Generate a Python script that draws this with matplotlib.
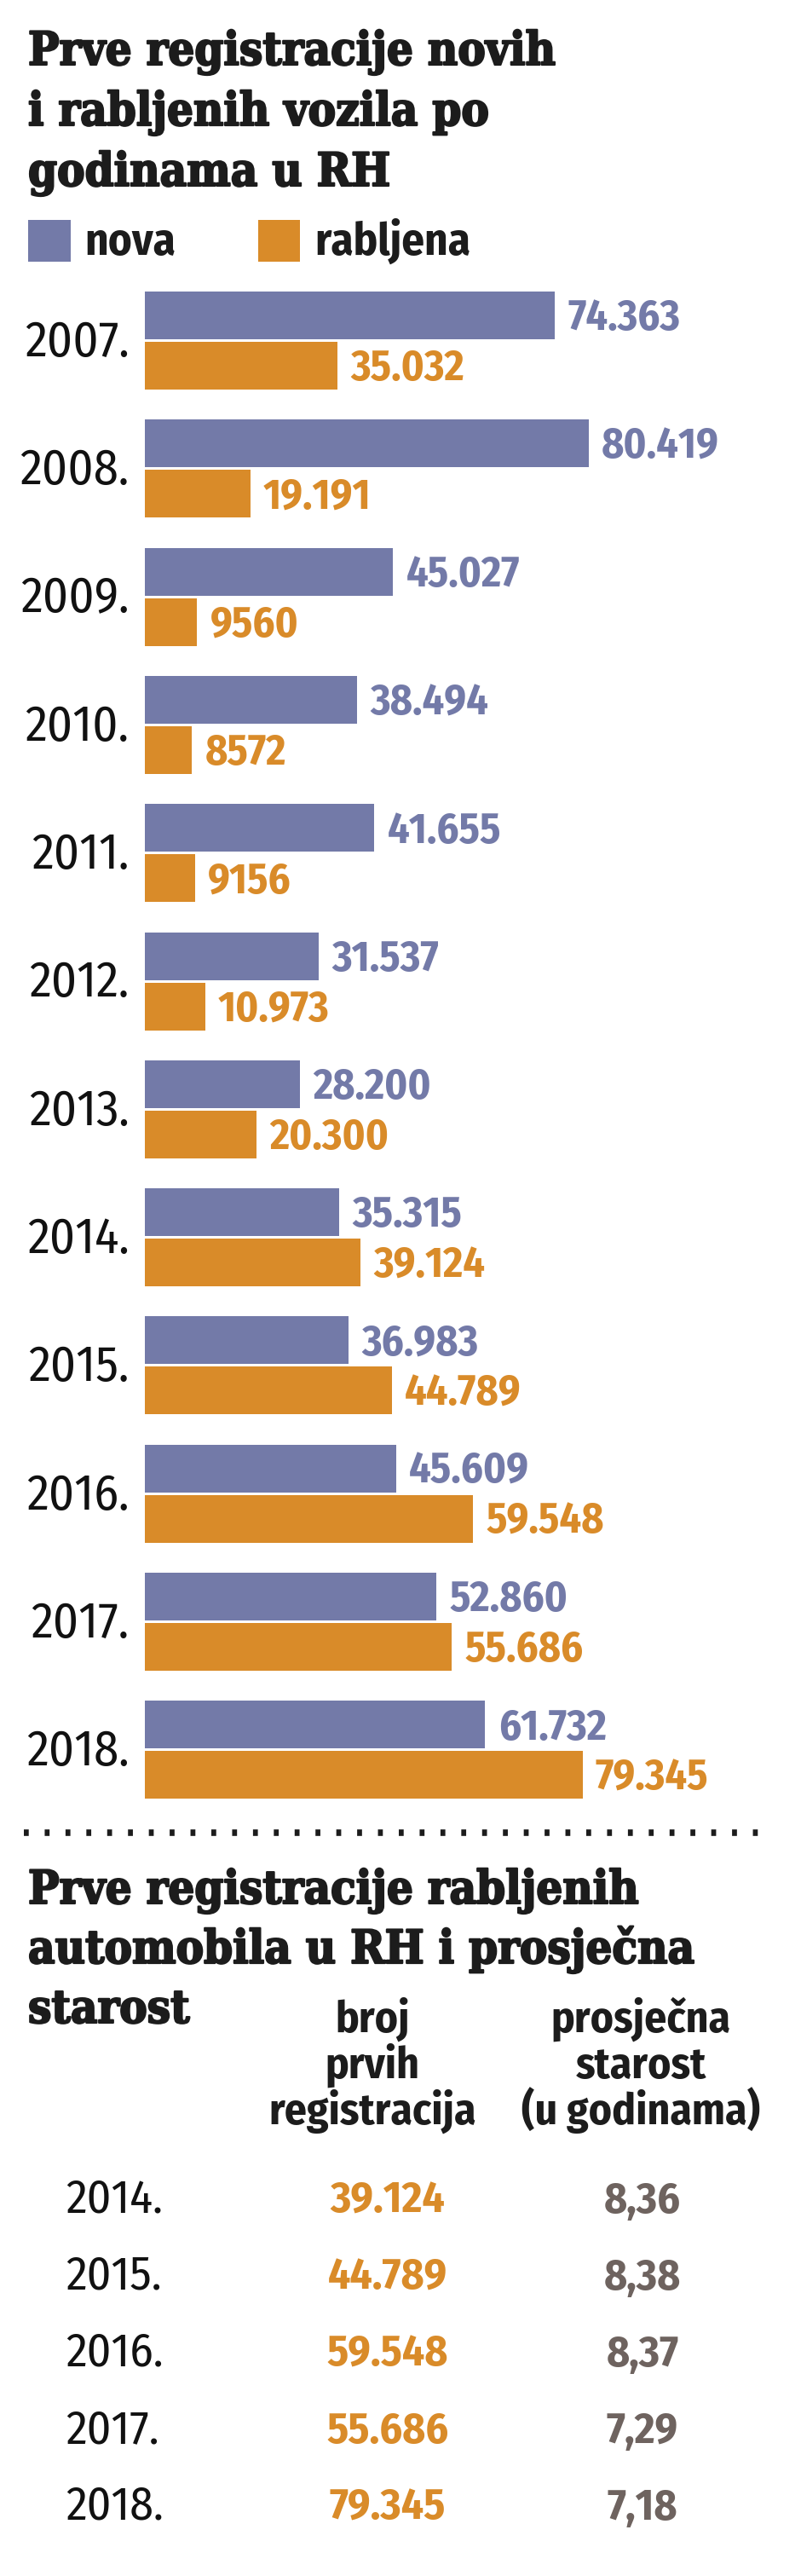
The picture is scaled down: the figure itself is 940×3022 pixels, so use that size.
import matplotlib
matplotlib.use("Agg")
import matplotlib.pyplot as plt
import matplotlib.patheffects as pe
from matplotlib.patches import Rectangle

# -----------------------------
# data
# -----------------------------
years = ["2007.", "2008.", "2009.", "2010.", "2011.", "2012.",
         "2013.", "2014.", "2015.", "2016.", "2017.", "2018."]
nova = [74363, 80419, 45027, 38494, 41655, 31537,
        28200, 35315, 36983, 45609, 52860, 61732]
rabljena = [35032, 19191, 9560, 8572, 9156, 10973,
            20300, 39124, 44789, 59548, 55686, 79345]
nova_labels = ["74.363", "80.419", "45.027", "38.494", "41.655", "31.537",
               "28.200", "35.315", "36.983", "45.609", "52.860", "61.732"]
rabljena_labels = ["35.032", "19.191", "9560", "8572", "9156", "10.973",
                   "20.300", "39.124", "44.789", "59.548", "55.686", "79.345"]

table_years = ["2014.", "2015.", "2016.", "2017.", "2018."]
table_regs = ["39.124", "44.789", "59.548", "55.686", "79.345"]
table_age = ["8,36", "8,38", "8,37", "7,29", "7,18"]

title1 = ["Prve registracije novih", "i rabljenih vozila po", "godinama u RH"]
title2 = ["Prve registracije rabljenih", "automobila u RH i prosječna", "starost"]
head1 = ["broj", "prvih", "registracija"]
head2 = ["prosječna", "starost", "(u godinama)"]

C_NOVA = "#737aa8"
C_RAB = "#d98b29"
C_AGE = "#6e635f"
C_TXT = "#1c1c1c"

W, H = 940, 3022
# heavy slab-ish title: condensed DejaVu Serif, thickened a bit with a stroke
TITLE_FONT = dict(family=["DejaVu Serif"], fontstretch="condensed", fontweight="bold",
                  path_effects=[pe.withStroke(linewidth=1.6, foreground=C_TXT)])
BOLD = dict(family=["Fira Sans Condensed", "DejaVu Sans"], fontweight="bold")
THIN = dict(family=["Fira Sans Condensed", "DejaVu Sans"], fontweight="normal")

fig = plt.figure(figsize=(W / 100, H / 100), dpi=100)
fig.patch.set_facecolor("white")

# canvas in pixel units for the free text
cv = fig.add_axes([0, 0, 1, 1])
cv.set_xlim(0, W)
cv.set_ylim(H, 0)
cv.axis("off")

# -----------------------------
# title + legend
# -----------------------------
for i, line in enumerate(title1):
    cv.text(33, 76 + 71 * i, line, fontsize=39, color=C_TXT, va="baseline", **TITLE_FONT)

cv.add_patch(Rectangle((33, 258), 50, 49, color=C_NOVA, lw=0))
cv.text(99, 299, "nova", fontsize=38, color=C_TXT, va="baseline", **BOLD)
cv.add_patch(Rectangle((303, 258), 49, 49, color=C_RAB, lw=0))
cv.text(369, 299, "rabljena", fontsize=38, color=C_TXT, va="baseline", **BOLD)

# -----------------------------
# bars
# -----------------------------
top, bottom, left = 330, 2110, 169.5
px_per_unit = 521 / 80419
ax = fig.add_axes([left / W, 1 - bottom / H, (W - left) / W, (bottom - top) / H])
ax.set_xlim(0, (W - left) / px_per_unit)
ax.set_ylim(bottom, top)
ax.axis("off")

pitch = 150.3
y_nova = [370 + pitch * i for i in range(len(years))]
y_rab = [429 + pitch * i for i in range(len(years))]
ax.barh(y_nova, nova, height=56, color=C_NOVA, left=0)
ax.barh(y_rab, rabljena, height=56, color=C_RAB, left=0)

for yn, yr, v1, v2, l1, l2, yl in zip(y_nova, y_rab, nova, rabljena,
                                      nova_labels, rabljena_labels, years):
    ax.annotate(l1, (v1, yn), xytext=(11, -12.5), textcoords="offset points",
                ha="left", va="baseline", fontsize=36, color=C_NOVA, **BOLD)
    ax.annotate(l2, (v2, yr), xytext=(11, -12.5), textcoords="offset points",
                ha="left", va="baseline", fontsize=36, color=C_RAB, **BOLD)
    ax.annotate(yl, (0, (yn + yr) / 2), xycoords=ax.get_yaxis_transform(),
                xytext=(-13, -13.3), textcoords="offset points",
                ha="right", va="baseline", fontsize=42, color="#111111", **THIN)

# -----------------------------
# dotted separator
# -----------------------------
cv.plot([28, 900], [2150, 2150], color=C_TXT, lw=5.5, solid_capstyle="butt",
        dash_capstyle="butt", linestyle=(0, (0.75, 2.45)))

# -----------------------------
# second block: table
# -----------------------------
for i, line in enumerate(title2):
    cv.text(33, 2233 + 70 * i, line, fontsize=39, color=C_TXT, va="baseline", **TITLE_FONT)

for i, (a, b) in enumerate(zip(head1, head2)):
    cv.text(437, 2384 + 54 * i, a, fontsize=37, color=C_TXT, ha="center", va="baseline", **BOLD)
    cv.text(752, 2384 + 54 * i, b, fontsize=37, color=C_TXT, ha="center", va="baseline", **BOLD)

for i, (yr, reg, age) in enumerate(zip(table_years, table_regs, table_age)):
    yb = 2596 + 90 * i
    cv.text(77, yb, yr, fontsize=40, color="#111111", ha="left", va="baseline", **THIN)
    cv.text(455, yb, reg, fontsize=37, color=C_RAB, ha="center", va="baseline", **BOLD)
    cv.text(754, yb, age, fontsize=37, color=C_AGE, ha="center", va="baseline", **BOLD)

fig.savefig("out.png", dpi=100, facecolor="white")
plt.close(fig)
